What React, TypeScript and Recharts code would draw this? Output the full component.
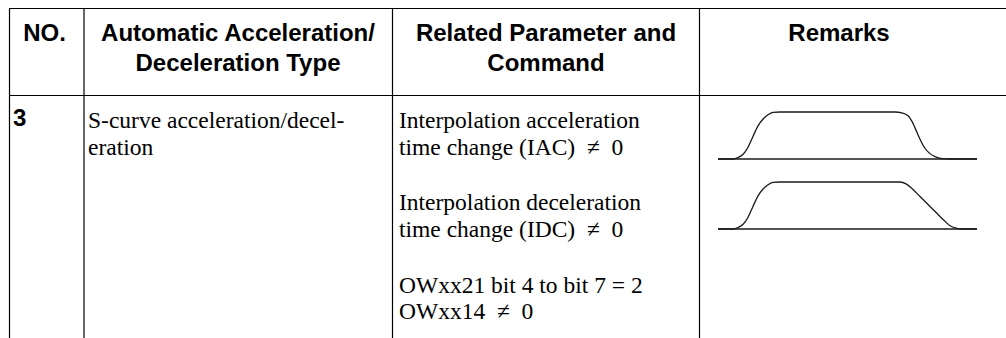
import { LineChart, Line, XAxis, YAxis, ReferenceLine } from 'recharts';

// header cells, one array of lines per column
const headerNo = ['NO.'];
const headerType = ['Automatic Acceleration/', 'Deceleration Type'];
const headerParam = ['Related Parameter and', 'Command'];
const headerRemarks = ['Remarks'];

// row 3 text
const rowNo = '3';
const rowType = ['S-curve acceleration/decel-', 'eration'];
const rowParam = [
  'Interpolation acceleration',
  'time change (IAC)\u00a0\u00a0\u2260\u00a0\u00a00',
  'Interpolation deceleration',
  'time change (IDC)\u00a0\u00a0\u2260\u00a0\u00a00',
  'OWxx21 bit 4 to bit 7 = 2',
  'OWxx14\u00a0\u00a0\u2260\u00a0\u00a00',
];

// speed profiles (time 0..100, speed 0..1)
const sCurveTime = [0, 5.8, 7.7, 9.7, 11.6, 13.5, 15.4, 17.4, 19.3, 21.2, 23.9, 68.3, 71.0, 73.4, 74.9, 76.4, 78.0, 79.5, 81.5, 83.8, 86.5, 89.6, 100];
const sCurveSpeed = [0, 0, 0.03, 0.1, 0.25, 0.48, 0.7, 0.85, 0.94, 0.99, 1, 1, 0.98, 0.92, 0.8, 0.62, 0.42, 0.26, 0.13, 0.05, 0.01, 0, 0];

const linearTime = [0, 5.8, 7.7, 9.7, 11.6, 13.5, 15.4, 17.4, 19.3, 21.2, 23.9, 70.3, 72.6, 74.9, 78.0, 81.1, 84.2, 87.3, 89.6, 91.9, 94.2, 100];
const linearSpeed = [0, 0, 0.03, 0.1, 0.25, 0.48, 0.7, 0.85, 0.94, 0.99, 1, 1, 0.96, 0.86, 0.69, 0.52, 0.35, 0.18, 0.07, 0.02, 0, 0];

const sansBold = { fontFamily: '"Liberation Sans", Arial, sans-serif', fontWeight: 700, fontSize: 24 };
const serif = { fontFamily: '"Liberation Serif", "Times New Roman", serif', fontSize: 23.5 };

const colX = [9.5, 84, 392.5, 699.5];
const headerCenters = [44.5, 238, 546, 839];
const paramBaselines = [128, 155, 210, 237, 293, 319];

function Profile({ time, speed, top }: { time: number[]; speed: number[]; top: number }) {
  const data = time.map((t, i) => ({ t, v: speed[i] }));
  return (
    <div style={{ position: 'absolute', left: 718, top }}>
      <LineChart width={259} height={49} data={data} margin={{ top: 1, right: 0, bottom: 1, left: 0 }}>
        <XAxis dataKey="t" type="number" domain={[0, 100]} hide />
        <YAxis domain={[0, 1]} hide />
        <ReferenceLine y={0} stroke="#1a1a1a" strokeWidth={1.3} />
        <Line
          type="monotone"
          dataKey="v"
          stroke="#1a1a1a"
          strokeWidth={1.3}
          dot={false}
          isAnimationActive={false}
        />
      </LineChart>
    </div>
  );
}

export default function App() {
  const headers = [headerNo, headerType, headerParam, headerRemarks];
  return (
    <div style={{ position: 'absolute', left: 0, top: 0, width: 1006, height: 338, background: '#fff' }}>
      <svg width={1006} height={338} style={{ position: 'absolute', left: 0, top: 0 }}>
        <line x1={9} y1={8.5} x2={1006} y2={8.5} stroke="#000" strokeWidth={1.2} />
        <line x1={9} y1={95.5} x2={1006} y2={95.5} stroke="#000" strokeWidth={1.2} />
        {colX.map((x) => (
          <line key={x} x1={x} y1={8} x2={x} y2={338} stroke="#000" strokeWidth={1.2} />
        ))}

        {headers.map((lines, c) =>
          lines.map((txt, i) => (
            <text key={`${c}-${i}`} x={headerCenters[c]} y={41 + i * 30} textAnchor="middle" fill="#000" style={sansBold}>
              {txt}
            </text>
          ))
        )}

        <text x={13} y={126} fill="#000" style={sansBold}>{rowNo}</text>

        {rowType.map((txt, i) => (
          <text key={txt} x={88} y={paramBaselines[i]} fill="#000" style={serif}>
            {txt}
          </text>
        ))}

        {rowParam.map((txt, i) => (
          <text key={txt} x={399} y={paramBaselines[i]} fill="#000" style={serif}>
            {txt}
          </text>
        ))}
      </svg>

      <Profile time={sCurveTime} speed={sCurveSpeed} top={111} />
      <Profile time={linearTime} speed={linearSpeed} top={181} />
    </div>
  );
}
